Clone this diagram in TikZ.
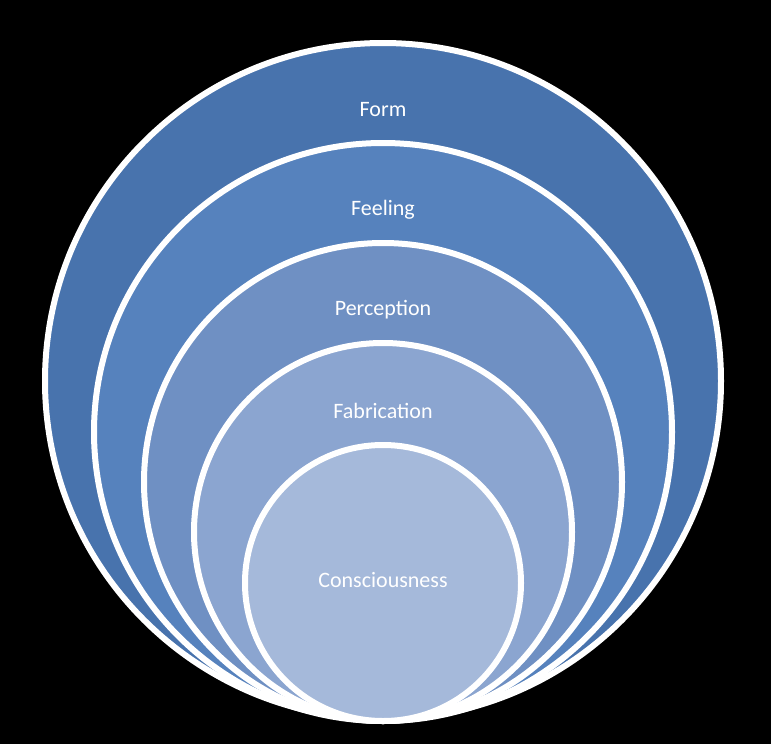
\documentclass[tikz,border=0pt]{standalone}
\usepackage{fontspec}
\setmainfont{Carlito}
\definecolor{cA}{HTML}{4873AD}
\definecolor{cB}{HTML}{5682BD}
\definecolor{cC}{HTML}{6F90C3}
\definecolor{cD}{HTML}{8BA5D0}
\definecolor{cE}{HTML}{A5B9DA}
\tikzset{ring/.style={draw=white,line width=6pt},lbl/.style={text=white,font=\fontsize{22}{26}\selectfont}}
\begin{document}
\begin{tikzpicture}[x=1pt,y=-1pt]
\fill[black] (0,0) rectangle (771,744);
\useasboundingbox (0,0) rectangle (771,744);
\draw[ring,fill=cA] (383,381) circle (338);
\draw[ring,fill=cB] (383,432) circle (289);
\draw[ring,fill=cC] (383,482) circle (239);
\draw[ring,fill=cD] (383,532) circle (189);
\draw[ring,fill=cE] (383,583) circle (138);
\node[lbl] (form) at (383,110) {Form};
\node[lbl] (feel) at (383,210) {Feeling};
\node[lbl] (perc) at (383,310) {Perception};
\node[lbl] (fab) at (383,411) {Fabrication};
\node[lbl] (cons) at (383,580) {Consciousness};
\end{tikzpicture}
\end{document}
